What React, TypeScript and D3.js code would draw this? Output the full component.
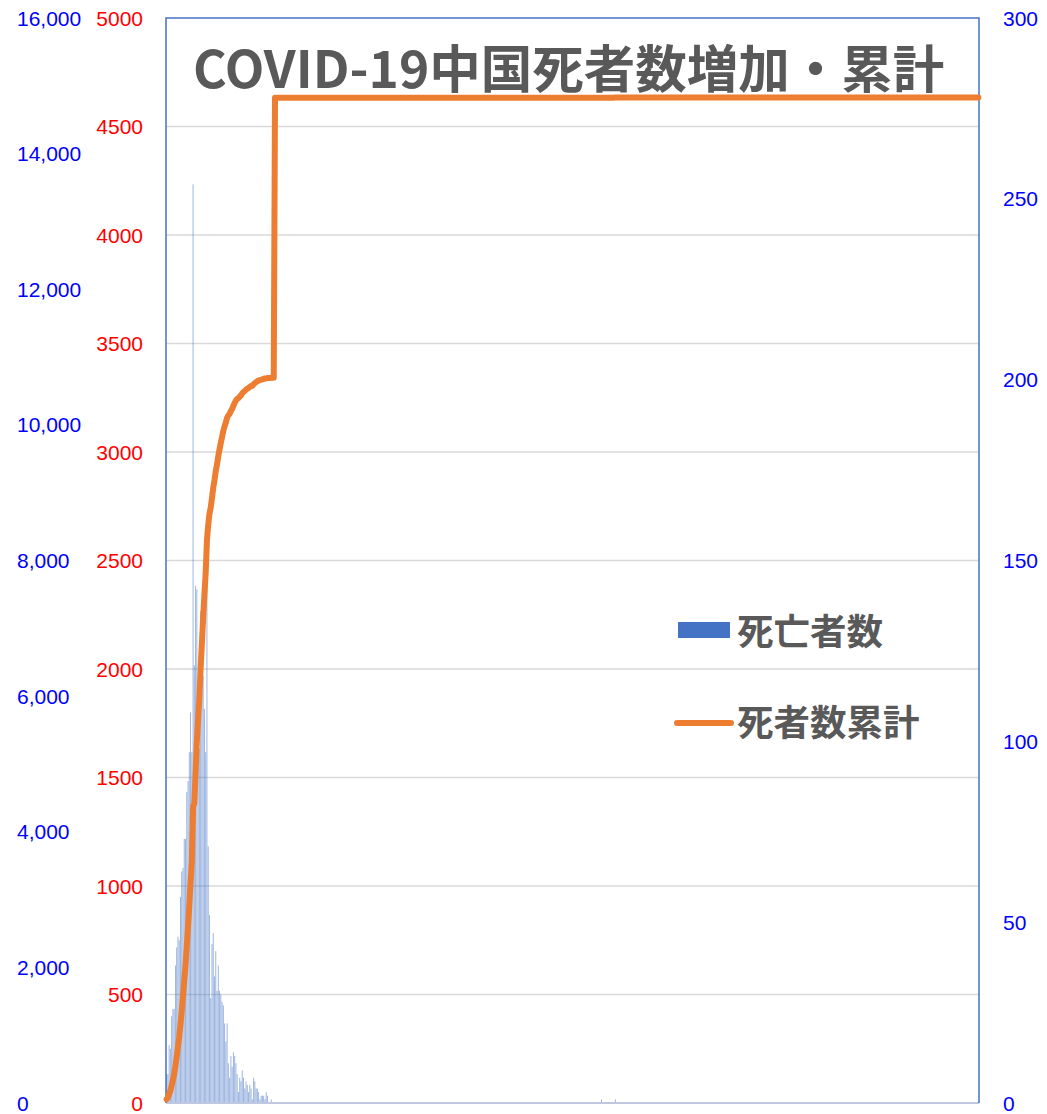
import React from "react";
import * as d3 from "d3";

// ---- data ----
const START_DATE = "2020-01-22";
const END_DATE = "2021-10-27";

// daily deaths, 2020-01-22 .. 2020-04-17
const dailyDeaths = [
  8, 8, 16, 15, 24, 26, 26, 38, 43, 46,
  45, 57, 64, 65, 73, 73, 86, 89, 97, 108,
  97, 254, 121, 143, 142, 105, 98, 136, 114, 118,
  109, 97, 150, 71, 52, 29, 44, 47, 35,
  42, 31, 38, 31, 30, 28, 27, 22, 17, 22,
  11, 7, 13, 10, 14, 13, 11, 8, 3, 7,
  6, 9, 7, 4, 6, 5, 3, 5, 4, 1, 7,
  6, 4, 4, 3, 1, 2, 2, 2, 1, 3, 2, 0, 0, 1, 0, 0, 0,
];

// cumulative deaths, 2020-01-22 .. 2020-04-17
const cumulativeDeaths = [
  17, 25, 41, 56, 80, 106, 132, 170, 213, 259,
  304, 361, 425, 490, 563, 636, 722, 811, 908, 1016,
  1113, 1367, 1380, 1523, 1665, 1770, 1868, 2004, 2118, 2236,
  2345, 2442, 2592, 2663, 2715, 2744, 2788, 2835, 2870,
  2912, 2943, 2981, 3012, 3042, 3070, 3097, 3119, 3136, 3158,
  3169, 3176, 3189, 3199, 3213, 3226, 3237, 3245, 3248, 3255,
  3261, 3270, 3277, 3281, 3287, 3292, 3295, 3300, 3304, 3305, 3312,
  3318, 3322, 3326, 3329, 3331, 3333, 3335, 3337, 3339, 3339, 3341, 3341, 3341, 3342, 3342, 3342, 4632,
];

// isolated later deaths
const laterDeathDates = ["2021-01-01", "2021-01-12"];
const laterDeathValues = [1, 1];

const outerLeftTicks = [0, 2000, 4000, 6000, 8000, 10000, 12000, 14000, 16000];
const innerLeftTicks = [0, 500, 1000, 1500, 2000, 2500, 3000, 3500, 4000, 4500, 5000];
const rightTicks = [0, 50, 100, 150, 200, 250, 300];

const TITLE = "COVID-19中国死者数増加・累計";
const LEGEND_BAR = "死亡者数";
const LEGEND_LINE = "死者数累計";

// ---- layout ----
const W = 1047;
const H = 1114;
const PL = 166;
const PR = 979;
const PT = 18;
const PB = 1103;

const BLUE = "#4472C4";
const ORANGE = "#ED7D31";
const GRAY_TEXT = "#595959";
const AXIS_FONT = "'Liberation Sans', Arial, sans-serif";
const CJK_FONT = "'Noto Sans CJK JP', 'Noto Sans', sans-serif";

function buildSeries() {
  const parse = d3.utcParse("%Y-%m-%d");
  const start = parse(START_DATE)!;
  const end = parse(END_DATE)!;
  const days = d3.utcDay.range(start, d3.utcDay.offset(end, 1));
  const later = new Map<number, number>();
  laterDeathDates.forEach((d, i) => later.set(parse(d)!.getTime(), laterDeathValues[i]));
  let cum = 0;
  return days.map((date, i) => {
    let deaths = 0;
    if (i < dailyDeaths.length) {
      deaths = dailyDeaths[i];
      cum = cumulativeDeaths[i];
    } else {
      deaths = later.get(date.getTime()) ?? 0;
      cum += deaths;
    }
    return { date, deaths, cum };
  });
}

export default function App() {
  const series = buildSeries();
  const x = d3
    .scaleBand<Date>()
    .domain(series.map((d) => d.date))
    .range([PL, PR])
    .paddingInner(0.25)
    .paddingOuter(0.1);
  const cx = (d: Date) => (x(d) ?? 0) + x.bandwidth() / 2;

  const yBars = d3.scaleLinear().domain([0, 300]).range([PB, PT]);
  const yLine = d3.scaleLinear().domain([0, 5000]).range([PB, PT]);
  const yOuter = d3.scaleLinear().domain([0, 16000]).range([PB, PT]);

  const line = d3
    .line<{ date: Date; cum: number }>()
    .x((d) => cx(d.date))
    .y((d) => yLine(d.cum));

  const fmtComma = d3.format(",");

  return (
    <svg
      width={W}
      height={H}
      style={{ position: "absolute", left: 0, top: 0, background: "#fff" }}
    >
      <rect x={0} y={0} width={W} height={H} fill="#fff" />
      {/* gridlines */}
      {innerLeftTicks
        .filter((t) => t > 0 && t < 5000)
        .map((t) => (
          <line
            key={"g" + t}
            x1={PL}
            x2={PR}
            y1={yLine(t)}
            y2={yLine(t)}
            stroke="#D9D9D9"
            strokeWidth={1.5}
          />
        ))}

      {/* bars */}
      {series
        .filter((d) => d.deaths > 0)
        .map((d, i) => (
          <rect
            key={"b" + i}
            x={x(d.date)}
            y={yBars(d.deaths)}
            width={Math.max(x.bandwidth(), 0.8)}
            height={PB - yBars(d.deaths)}
            fill={BLUE}
            fillOpacity={0.55}
          />
        ))}

      {/* bottom axis line */}
      <line x1={PL} x2={PR} y1={PB} y2={PB} stroke="#BFC8DE" strokeWidth={2} />

      {/* plot border */}
      <path
        d={`M${PL},${PB} V${PT} H${PR} V${PB}`}
        fill="none"
        stroke={BLUE}
        strokeWidth={1.5}
      />

      {/* cumulative line */}
      <path
        d={line(series) ?? ""}
        fill="none"
        stroke={ORANGE}
        strokeWidth={6}
        strokeLinejoin="round"
        strokeLinecap="round"
      />

      {/* outer-left axis (blue) */}
      {outerLeftTicks.map((t) => (
        <text
          key={"o" + t}
          x={17}
          y={yOuter(t)}
          dy="0.36em"
          fill="#0000FF"
          fontFamily={AXIS_FONT}
          fontSize={21}
          textAnchor="start"
        >
          {fmtComma(t)}
        </text>
      ))}

      {/* inner-left axis (red) */}
      {innerLeftTicks.map((t) => (
        <text
          key={"i" + t}
          x={143}
          y={yLine(t)}
          dy="0.36em"
          fill="#FF0000"
          fontFamily={AXIS_FONT}
          fontSize={21}
          textAnchor="end"
        >
          {String(t)}
        </text>
      ))}

      {/* right axis (blue) */}
      {rightTicks.map((t) => (
        <text
          key={"r" + t}
          x={1003}
          y={yBars(t)}
          dy="0.36em"
          fill="#0000FF"
          fontFamily={AXIS_FONT}
          fontSize={21}
          textAnchor="start"
        >
          {String(t)}
        </text>
      ))}

      {/* title */}
      <text
        x={193}
        y={88}
        fill={GRAY_TEXT}
        fontFamily={CJK_FONT}
        fontWeight="bold"
        fontSize={51.5}
      >
        {TITLE}
      </text>

      {/* legend */}
      <rect x={678} y={622} width={52} height={16} fill={BLUE} />
      <text
        x={737}
        y={632}
        dy="0.36em"
        fill={GRAY_TEXT}
        fontFamily={CJK_FONT}
        fontWeight="bold"
        fontSize={36.5}
      >
        {LEGEND_BAR}
      </text>
      <line
        x1={677}
        x2={731}
        y1={723}
        y2={723}
        stroke={ORANGE}
        strokeWidth={6}
        strokeLinecap="round"
      />
      <text
        x={737}
        y={723}
        dy="0.36em"
        fill={GRAY_TEXT}
        fontFamily={CJK_FONT}
        fontWeight="bold"
        fontSize={36.5}
      >
        {LEGEND_LINE}
      </text>
    </svg>
  );
}
